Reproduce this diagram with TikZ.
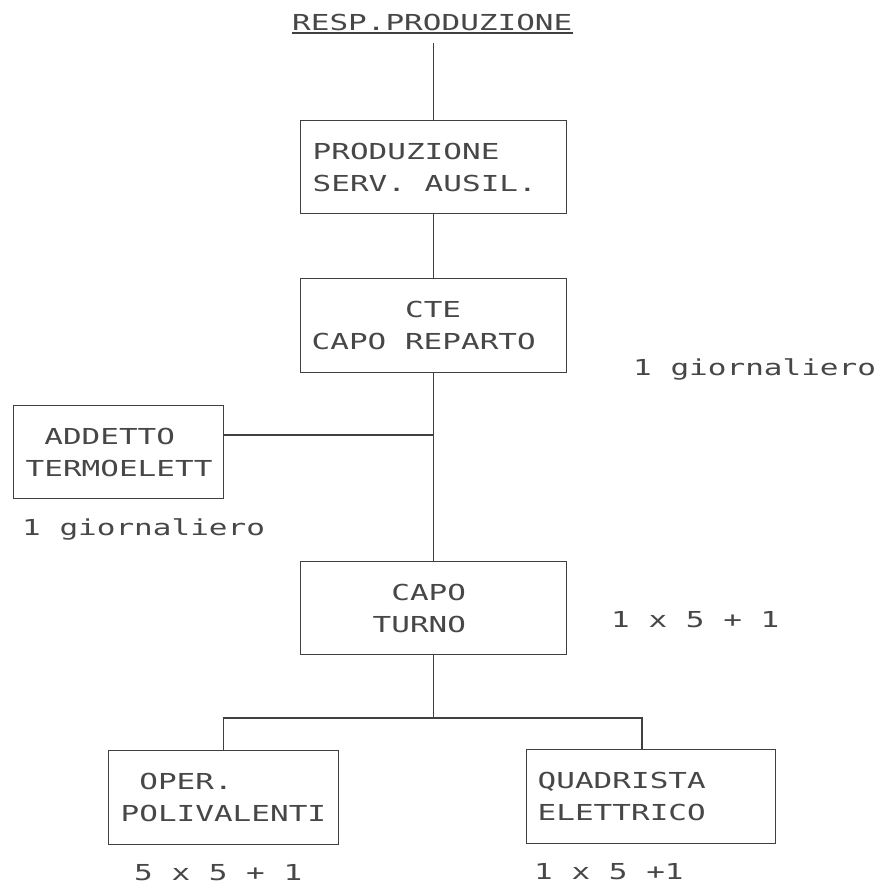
\documentclass[tikz,border=0pt]{standalone}
\usepackage{fontspec}
\newfontfamily\plotfont[FakeStretch=1.41]{DejaVu Sans Mono}
\newcommand\plotsize{\plotfont\fontsize{22}{32}\selectfont\frenchspacing}
\begin{document}
\begin{tikzpicture}[x=1pt,y=-1pt,
  ink/.style={line width=1.4pt, draw=black!75},
  txt/.style={inner sep=0pt, anchor=base west, text=black!72, font=\plotsize},
  box/.style={ink, rectangle, anchor=north west, inner ysep=0pt, align=flush left,
              text=black!72, font=\plotsize}]
\useasboundingbox[fill=white] (0,0) rectangle (885,886);

% title
\node[txt] (title) at (292,30) {RESP.PRODUZIONE};
\draw[ink] ([yshift=-3pt]title.base west) -- ([yshift=-3pt]title.base east);

% boxes
\node[box, minimum width=266pt, minimum height=93pt, inner xsep=12pt, text width=242pt]
  (b1) at (300,120) {PRODUZIONE\\SERV. AUSIL.};
\node[box, minimum width=266pt, minimum height=94pt, inner xsep=11pt, text width=244pt]
  (b2) at (300,278) {\phantom{XXXXX}CTE\\CAPO REPARTO};
\node[box, minimum width=210pt, minimum height=93pt, inner xsep=12pt, text width=186pt]
  (addT) at (13,405) {\phantom{X}ADDETTO\\TERMOELETT};
\node[box, minimum width=266pt, minimum height=93pt, inner xsep=72pt, text width=122pt]
  (b3) at (300,561) {\phantom{X}CAPO\\TURNO};
\node[box, minimum width=230pt, minimum height=94pt, inner xsep=12pt, text width=206pt]
  (oper) at (108,750) {\phantom{X}OPER.\\POLIVALENTI};
\node[box, minimum width=249pt, minimum height=94pt, inner xsep=11pt, text width=227pt]
  (quad) at (526,749) {QUADRISTA\\ELETTRICO};

% labels
\node[txt] (glR) at (633,375) {1 giornaliero};
\node[txt] (glL) at (22,535) {1 giornaliero};
\node[txt] (n1) at (611,627) {1 x 5 + 1};
\node[txt] (n2) at (134,880) {5 x 5 + 1};
\node[txt] (n3) at (534,879) {1 x 5 +1};

% junctions
\coordinate (j1) at (433,435);
\coordinate (j2) at (642,718);

% connectors
\draw[ink] ([yshift=-13pt]b1.north |- title.base) -- (b1.north);
\draw[ink] (b1.south) -- (b2.north);
\draw[ink] (b2.south) -- (b3.north);
\draw[ink] (addT.east |- j1) -- (j1);
\draw[ink] (b3.south) -- (b3.south |- j2);
\draw[ink] (oper.north) |- (j2) -- (j2 |- quad.north);
\end{tikzpicture}
\end{document}
